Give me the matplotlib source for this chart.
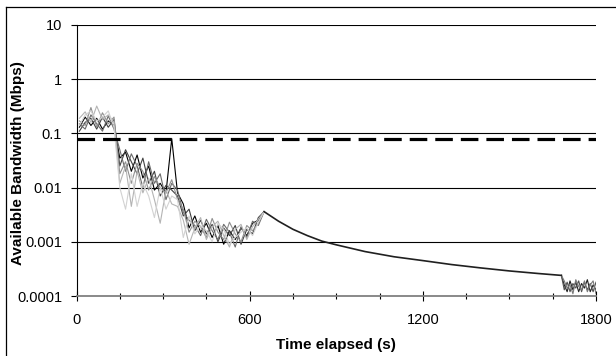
import matplotlib
matplotlib.use("Agg")
import matplotlib.pyplot as plt
from matplotlib.lines import Line2D
from matplotlib.ticker import FixedLocator, NullFormatter

plt.rcParams["font.family"] = ["Liberation Sans", "DejaVu Sans"]

# --- data ------------------------------------------------------------------
# noisy phase, sampled every 20 s from 10 s to 630 s
T_EARLY = list(range(10, 631, 20))
EARLY = [
    [0.13, 0.2, 0.14, 0.19, 0.12, 0.17, 0.14, 0.035, 0.045, 0.02, 0.04, 0.015, 0.025, 0.009, 0.012, 0.008,
     0.08, 0.008, 0.005, 0.0018, 0.003, 0.0015, 0.0022, 0.0012, 0.002, 0.0009, 0.0016, 0.0011, 0.0018, 0.0013, 0.0022, 0.0025],
    [0.11, 0.16, 0.19, 0.12, 0.2, 0.13, 0.18, 0.025, 0.05, 0.03, 0.018, 0.035, 0.012, 0.02, 0.007, 0.011,
     0.009, 0.007, 0.003, 0.004, 0.0016, 0.0025, 0.0014, 0.0021, 0.001, 0.0018, 0.0013, 0.002, 0.0009, 0.0017, 0.0014, 0.0028],
    [0.15, 0.12, 0.22, 0.15, 0.11, 0.21, 0.12, 0.05, 0.02, 0.042, 0.025, 0.01, 0.03, 0.012, 0.018, 0.006,
     0.012, 0.009, 0.0035, 0.0025, 0.002, 0.0013, 0.0026, 0.0016, 0.0011, 0.0021, 0.0015, 0.0008, 0.0019, 0.0012, 0.0024, 0.002],
    [0.17, 0.14, 0.3, 0.13, 0.24, 0.15, 0.2, 0.018, 0.03, 0.012, 0.028, 0.02, 0.009, 0.016, 0.01, 0.008,
     0.014, 0.006, 0.004, 0.0015, 0.0024, 0.0019, 0.0012, 0.0027, 0.0015, 0.0011, 0.0023, 0.0014, 0.001, 0.002, 0.0016, 0.0022],
    [0.19, 0.25, 0.16, 0.32, 0.18, 0.22, 0.16, 0.012, 0.025, 0.0045, 0.02, 0.008, 0.015, 0.006, 0.0022, 0.009,
     0.005, 0.0045, 0.0025, 0.0009, 0.0018, 0.0028, 0.0011, 0.0019, 0.0024, 0.0013, 0.0008, 0.0017, 0.0021, 0.0011, 0.0019, 0.0026],
    [0.14, 0.22, 0.26, 0.17, 0.2, 0.26, 0.13, 0.01, 0.004, 0.018, 0.0045, 0.012, 0.007, 0.0028, 0.01, 0.004,
     0.007, 0.006, 0.0012, 0.003, 0.0014, 0.002, 0.0016, 0.001, 0.0022, 0.0017, 0.0009, 0.0012, 0.0015, 0.0018, 0.0013, 0.0023],
]
GRAYS = ["#000000", "#404040", "#6a6a6a", "#909090", "#b4b4b4", "#d2d2d2"]

# shared smooth decay after the last probe burst
T_DECAY = [650, 700, 750, 800, 850, 900, 1000, 1100, 1200, 1300, 1400, 1500, 1600, 1680]
DECAY = [0.0036, 0.0024, 0.0017, 0.0013, 0.00103, 0.00088, 0.00066, 0.00053, 0.00045,
         0.00038, 0.00033, 0.00029, 0.00026, 0.00024]

# final noisy tail
T_LATE = list(range(1690, 1801, 10))
LATE = [
    [0.00016, 0.00012, 0.00019, 0.00013, 0.00018, 0.00012, 0.00017, 0.00014, 0.0002, 0.00012, 0.00016, 0.00013],
    [0.00013, 0.00018, 0.00012, 0.00017, 0.00014, 0.00019, 0.00012, 0.00018, 0.00013, 0.00017, 0.00012, 0.00018],
    [0.00019, 0.00014, 0.00016, 0.00011, 0.0002, 0.00015, 0.00013, 0.00019, 0.00012, 0.00016, 0.00019, 0.00011],
]
LATE_GRAYS = ["#202020", "#505050", "#7a7a7a"]

THRESHOLD = 0.08
X_TICKS = [0, 600, 1200, 1800]
Y_TICKS = [0.0001, 0.001, 0.01, 0.1, 1, 10]
Y_LABELS = ["0.0001", "0.001", "0.01", "0.1", "1", "10"]

# --- figure ----------------------------------------------------------------
fig = plt.figure(figsize=(6.16, 3.56), dpi=100)
ax = fig.add_axes([76.5 / 616, 1 - 296 / 356, (596 - 76.5) / 616, (296 - 25) / 356])

for yv in Y_TICKS[1:]:
    ax.axhline(yv, color="black", lw=0.8, zorder=1)

for vals, col in zip(EARLY, GRAYS):
    ax.plot(T_EARLY + [T_DECAY[0]], vals + [DECAY[0]], color=col, lw=0.8, zorder=3)

ax.plot(T_DECAY, DECAY, color="#202020", lw=1.2, zorder=4)
for vals, col in zip(LATE, LATE_GRAYS):
    ax.plot([T_DECAY[-1]] + T_LATE, [DECAY[-1]] + vals, color=col, lw=0.8, zorder=3)

ax.plot([0, 1800], [THRESHOLD, THRESHOLD], color="black", lw=2.3,
        dashes=(5.5, 2.5), zorder=5)

ax.set_yscale("log")
ax.set_xlim(0, 1800)
ax.set_ylim(0.0001, 10)
ax.set_yticks(Y_TICKS)
ax.set_yticklabels(Y_LABELS)
ax.yaxis.set_minor_locator(FixedLocator([]))
ax.yaxis.set_minor_formatter(NullFormatter())
ax.set_xticks(X_TICKS)
ax.xaxis.set_minor_locator(FixedLocator(list(range(150, 1800, 150))))

for s in ("top", "right"):
    ax.spines[s].set_visible(False)
ax.spines["left"].set_color("black")
ax.spines["bottom"].set_color("#808080")
ax.spines["bottom"].set_linewidth(1.3)
ax.tick_params(axis="y", direction="out", length=4, width=0.8, labelsize=10.5, pad=6.4)
ax.tick_params(axis="x", which="major", direction="inout", length=7, width=0.8, labelsize=10.5, pad=9)
ax.tick_params(axis="x", which="minor", direction="inout", length=4, width=0.8)

ax.set_xlabel("Time elapsed (s)", fontsize=11, fontweight="bold")
ax.set_ylabel("Available Bandwidth (Mbps)", fontsize=11, fontweight="bold")
ax.xaxis.set_label_coords(0.5, -0.155)
ax.yaxis.set_label_coords(-0.099, 0.49)

# chart frame (left and top edges visible in the crop)
fig.add_artist(Line2D([6 / 616, 6 / 616], [0, 1 - 7 / 356], transform=fig.transFigure,
                      color="black", lw=0.9))
fig.add_artist(Line2D([6 / 616, 1], [1 - 7 / 356, 1 - 7 / 356], transform=fig.transFigure,
                      color="black", lw=0.9))

fig.savefig("out.png", dpi=100)
